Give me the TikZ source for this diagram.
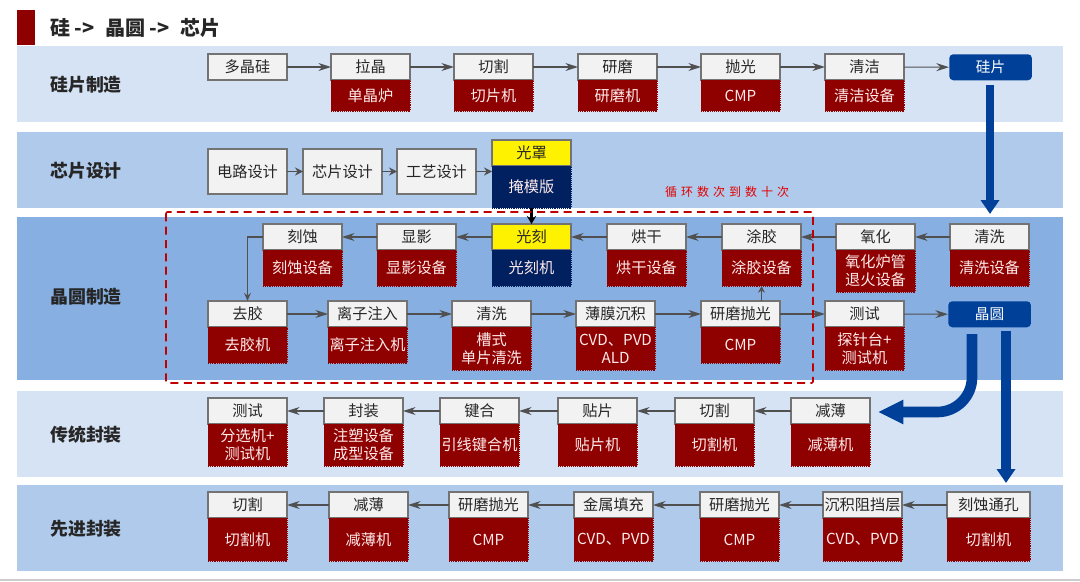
\documentclass[tikz,border=0pt]{standalone}
\usepackage{fontspec}
\setmainfont{Noto Sans CJK SC}
\usetikzlibrary{positioning,arrows.meta}
\definecolor{darkred}{RGB}{143, 0, 0}
\definecolor{navyblue}{RGB}{0, 32, 96}
\definecolor{flowblue}{RGB}{0, 64, 152}
\definecolor{bandlight}{RGB}{214, 227, 244}
\definecolor{bandmid}{RGB}{175, 202, 235}
\definecolor{banddark}{RGB}{135, 175, 225}
\definecolor{headgray}{RGB}{242, 242, 242}
\definecolor{linegray}{RGB}{80, 80, 80}
\tikzset{
    headbox/.style={draw=gray!90!black, line width=0.8pt, fill=headgray, text=black!85, minimum width=59.25pt, minimum height=19.5pt, inner sep=0pt, outer sep=0pt, font=\fontsize{11.4}{13}\selectfont, anchor=north west},
    toolbox/.style={draw=darkred, densely dotted, line width=0.4pt, fill=darkred, text=white!92!red, minimum width=59.25pt, inner sep=0pt, outer sep=0pt, align=center, font=\fontsize{11.4}{13.5}\selectfont},
    flowbox/.style={fill=flowblue, rounded corners=3pt, text=white, minimum width=62pt, minimum height=19.5pt, inner sep=0pt, font=\fontsize{11}{13}\selectfont, anchor=north west},
    rowlabel/.style={font=\fontsize{13.4}{15}\selectfont\bfseries, text=black!85, anchor=west, inner sep=0pt},
    link/.style={draw=linegray, line width=0.8pt, -{Stealth[length=9.5pt, width=6pt]}},
    bigflow/.style={draw=flowblue, line width=7.5pt, -{Triangle[length=10.5pt, width=13.5pt]}}
}
\begin{document}
\begin{tikzpicture}[x=0.75pt, y=-0.75pt]
    \useasboundingbox (0,0) rectangle (1080,581);
    % Title
    \fill[color=darkred] (17,10) rectangle (35,45);
    \node[anchor=west, inner sep=0pt, font=\fontsize{15}{18}\selectfont\bfseries, text=black!85] (title) at (50,28) {硅 -> \hspace{4.5pt}晶圆 -> \hspace{4.5pt}芯片};
    % Bands
    \fill[color=bandlight] (17, 46) rectangle (1063,122);
    \fill[color=bandmid]   (17,132) rectangle (1063,208);
    \fill[color=banddark]  (17,217) rectangle (1063,380);
    \fill[color=bandlight] (17,391) rectangle (1063,477);
    \fill[color=bandmid]   (17,485) rectangle (1063,571);
    \fill[color=gray!40]   (0,579) rectangle (1080,581);
    \node[rowlabel] (rowwafer)    at (50, 85) {硅片制造};
    \node[rowlabel] (rowdesign)   at (50,171) {芯片设计};
    \node[rowlabel] (rowfab)      at (50,297) {晶圆制造};
    \node[rowlabel] (rowpackage)  at (50,435) {传统封装};
    \node[rowlabel] (rowadvanced) at (50,529) {先进封装};
    % Silicon wafer
    \node[headbox] (poly)    at (208,54) {多晶硅};
    \node[headbox] (pull)    at (331,54) {拉晶};
    \node[headbox] (slice)   at (454,54) {切割};
    \node[headbox] (grind)   at (578,54) {研磨};
    \node[headbox] (polish)  at (701,54) {抛光};
    \node[headbox] (clean)   at (825,54) {清洁};
    \node[flowbox] (silicon) at (949,54) {硅片};
    \node[toolbox, minimum height=23.25pt, below=0pt of pull]   (pulltool)   {单晶炉};
    \node[toolbox, minimum height=23.25pt, below=0pt of slice]  (slicetool)  {切片机};
    \node[toolbox, minimum height=23.25pt, below=0pt of grind]  (grindtool)  {研磨机};
    \node[toolbox, minimum height=23.25pt, below=0pt of polish] (polishtool) {CMP};
    \node[toolbox, minimum height=23.25pt, below=0pt of clean]  (cleantool)  {清洁设备};
    \draw[link] (poly)   -- (pull);
    \draw[link] (pull)   -- (slice);
    \draw[link] (slice)  -- (grind);
    \draw[link] (grind)  -- (polish);
    \draw[link] (polish) -- (clean);
    \draw[link] (clean)  -- (silicon);
    % Chip design
    \node[headbox, minimum height=33.75pt] (circuit) at (208,149) {电路设计};
    \node[headbox, minimum height=33.75pt] (chip)    at (303,149) {芯片设计};
    \node[headbox, minimum height=33.75pt] (craft)   at (397,149) {工艺设计};
    \node[headbox, fill=yellow]            (mask)    at (492,140) {光罩};
    \node[toolbox, minimum height=31.5pt, draw=navyblue, fill=navyblue, below=0pt of mask] (masktool) {掩模版};
    \draw[link, -{Stealth[length=6pt, width=6pt]}] (circuit) -- (chip);
    \draw[link, -{Stealth[length=6pt, width=6pt]}] (chip)    -- (craft);
    \draw[link, -{Stealth[length=6pt, width=6pt]}] (craft.east) -- (craft.east -| mask.west);
    % Wafer fab, upper row
    \node[headbox] (etch)    at (263,224) {刻蚀};
    \node[headbox] (develop) at (377,224) {显影};
    \node[headbox, fill=yellow] (litho) at (492,224) {光刻};
    \node[headbox] (bake)    at (607,224) {烘干};
    \node[headbox] (coat)    at (722,224) {涂胶};
    \node[headbox] (oxide)   at (836,224) {氧化};
    \node[headbox] (wash)    at (950,224) {清洗};
    \node[toolbox, minimum height=27pt, below=0pt of etch]    (etchtool)    {刻蚀设备};
    \node[toolbox, minimum height=27pt, below=0pt of develop] (developtool) {显影设备};
    \node[toolbox, minimum height=27pt, draw=navyblue, fill=navyblue, below=0pt of litho] (lithotool) {光刻机};
    \node[toolbox, minimum height=27pt, below=0pt of bake]    (baketool)    {烘干设备};
    \node[toolbox, minimum height=27pt, below=0pt of coat]    (coattool)    {涂胶设备};
    \node[toolbox, minimum height=31.5pt, below=0pt of oxide] (oxidetool)   {氧化炉管\\退火设备};
    \node[toolbox, minimum height=27pt, below=0pt of wash]    (washtool)    {清洗设备};
    % Wafer fab, lower row
    \node[headbox] (strip)   at (208,301) {去胶};
    \node[headbox] (implant) at (328,301) {离子注入};
    \node[headbox] (rinse)   at (452,301) {清洗};
    \node[headbox] (film)    at (576,301) {薄膜沉积};
    \node[headbox] (cmp)     at (701,301) {研磨抛光};
    \node[headbox] (probe)   at (825,301) {测试};
    \node[flowbox] (wafer)   at (948,301) {晶圆};
    \node[toolbox, minimum height=27pt, below=0pt of strip]   (striptool)   {去胶机};
    \node[toolbox, minimum height=27pt, below=0pt of implant] (implanttool) {离子注入机};
    \node[toolbox, minimum height=32.25pt, below=0pt of rinse] (rinsetool)  {槽式\\单片清洗};
    \node[toolbox, minimum height=32.25pt, below=0pt of film]  (filmtool)   {CVD、PVD\\ALD};
    \node[toolbox, minimum height=27pt, below=0pt of cmp]     (cmptool)     {CMP};
    \node[toolbox, minimum height=32.25pt, below=0pt of probe] (probetool)  {探针台+\\测试机};
    \draw[link] (wash)    -- (oxide);
    \draw[link] (oxide)   -- (coat);
    \draw[link] (coat)    -- (bake);
    \draw[link] (bake)    -- (litho);
    \draw[link] (litho)   -- (develop);
    \draw[link] (develop) -- (etch);
    \draw[link, -{Stealth[length=6pt, width=5pt]}] (etch.west) -| (strip.north);
    \draw[link] (strip)   -- (implant);
    \draw[link] (implant) -- (rinse);
    \draw[link] (rinse)   -- (film);
    \draw[link] (film)    -- (cmp);
    \draw[link] (cmp)     -- (probe);
    \draw[link] (probe)   -- (wafer);
    \draw[link, -{Stealth[length=5pt, width=5pt]}] (cmp.north -| coattool.south) -- (coattool.south);
    \draw[draw=black, line width=1.6pt, -{Stealth[length=6pt, width=7pt]}] (masktool.south) -- (litho.north);
    % Repeat loop
    \draw[color=red!75!black, line width=1.2pt, dash pattern=on 6pt off 4pt, rounded corners=1pt] (166,212) rectangle (813,383);
    \node[text=red!90!black, font=\fontsize{9}{11}\selectfont] (looplabel) at (727,192) {循\,\,环\,\,数\,\,次\,\,到\,\,数\,\,十\,\,次};
    % Traditional packaging
    \node[headbox] (ptest)  at (208,398) {测试};
    \node[headbox] (mold)   at (324,398) {封装};
    \node[headbox] (bond)   at (440,398) {键合};
    \node[headbox] (attach) at (558,398) {贴片};
    \node[headbox] (dice)   at (675,398) {切割};
    \node[headbox] (thin)   at (791,398) {减薄};
    \node[toolbox, minimum height=31.5pt, below=0pt of ptest]  (ptesttool)  {分选机+\\测试机};
    \node[toolbox, minimum height=31.5pt, below=0pt of mold]   (moldtool)   {注塑设备\\成型设备};
    \node[toolbox, minimum height=31.5pt, below=0pt of bond]   (bondtool)   {引线键合机};
    \node[toolbox, minimum height=31.5pt, below=0pt of attach] (attachtool) {贴片机};
    \node[toolbox, minimum height=31.5pt, below=0pt of dice]   (dicetool)   {切割机};
    \node[toolbox, minimum height=31.5pt, below=0pt of thin]   (thintool)   {减薄机};
    \draw[link] (thin)   -- (dice);
    \draw[link] (dice)   -- (attach);
    \draw[link] (attach) -- (bond);
    \draw[link] (bond)   -- (mold);
    \draw[link] (mold)   -- (ptest);
    % Advanced packaging
    \node[headbox] (acut)   at (208,492) {切割};
    \node[headbox] (athin)  at (329,492) {减薄};
    \node[headbox] (acmpa)  at (449,492) {研磨抛光};
    \node[headbox] (metal)  at (574,492) {金属填充};
    \node[headbox] (acmpb)  at (700,492) {研磨抛光};
    \node[headbox] (barrier) at (823,492) {沉积阻挡层};
    \node[headbox, minimum width=62.25pt] (via) at (947,492) {刻蚀通孔};
    \node[toolbox, minimum height=32.25pt, below=0pt of acut]    (acuttool)    {切割机};
    \node[toolbox, minimum height=32.25pt, below=0pt of athin]   (athintool)   {减薄机};
    \node[toolbox, minimum height=32.25pt, below=0pt of acmpa]   (acmpatool)   {CMP};
    \node[toolbox, minimum height=32.25pt, below=0pt of metal]   (metaltool)   {CVD、PVD};
    \node[toolbox, minimum height=32.25pt, below=0pt of acmpb]   (acmpbtool)   {CMP};
    \node[toolbox, minimum height=32.25pt, below=0pt of barrier] (barriertool) {CVD、PVD};
    \node[toolbox, minimum height=32.25pt, minimum width=62.25pt, below=0pt of via] (viatool) {切割机};
    \draw[link] (via)     -- (barrier);
    \draw[link] (barrier) -- (acmpb);
    \draw[link] (acmpb)   -- (metal);
    \draw[link] (metal)   -- (acmpa);
    \draw[link] (acmpa)   -- (athin);
    \draw[link] (athin)   -- (acut);
    % Big arrows between stages
    \coordinate (downstart)  at (990,85);
    \coordinate (downend)    at (990,214);
    \coordinate (leftstart)  at (972,334);
    \coordinate (leftend)    at (878,412);
    \coordinate (rightstart) at (1006,331);
    \coordinate (rightend)   at (1006,483);
    \draw[bigflow, line width=6pt] (downstart) -- (downend);
    \draw[bigflow] (rightstart) -- (rightend);
    \draw[bigflow, line width=8pt, rounded corners=26pt, -{Triangle[length=19pt, width=17pt]}] (leftstart) |- (leftend);
\end{tikzpicture}
\end{document}
